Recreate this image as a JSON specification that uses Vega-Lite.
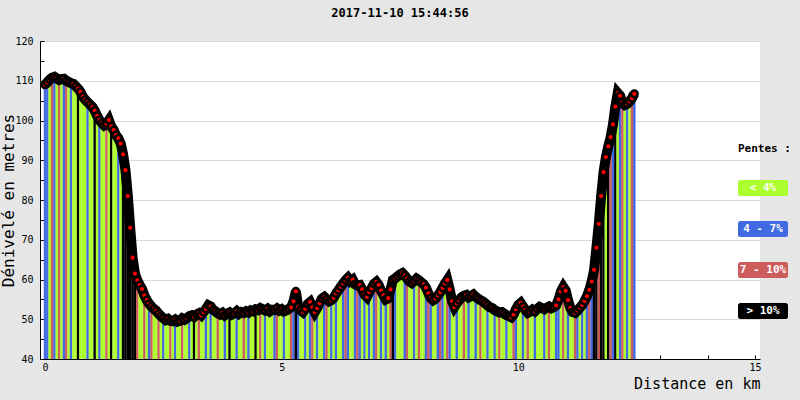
{
"$schema": "https://vega.github.io/schema/vega-lite/v6.json",
"autosize": "none",
"width": 720,
"height": 318,
"padding": {"left": 40, "top": 41, "right": 40, "bottom": 41},
"background": "#e6e6e6",
"title": {"text": "2017-11-10 15:44:56", "font": "DejaVu Sans Mono", "fontSize": 12, "fontWeight": "bold", "color": "black", "offset": 16, "anchor": "middle"},
"config": {"view": {"fill": "white", "stroke": null}, "font": "DejaVu Sans Mono"},
"data": {"values": [
{"d":0.00,"e":109.0,"s":"4 - 7%"},{"d":0.05,"e":109.6,"s":"4 - 7%"},{"d":0.10,"e":110.3,"s":"< 4%"},{"d":0.15,"e":110.8,"s":"7 - 10%"},{"d":0.20,"e":111.0,"s":"4 - 7%"},{"d":0.25,"e":110.6,"s":"< 4%"},{"d":0.30,"e":110.2,"s":"7 - 10%"},{"d":0.35,"e":110.4,"s":"< 4%"},{"d":0.40,"e":110.5,"s":"4 - 7%"},{"d":0.45,"e":110.0,"s":"7 - 10%"},
{"d":0.50,"e":109.7,"s":"< 4%"},{"d":0.55,"e":109.4,"s":"4 - 7%"},{"d":0.60,"e":109.2,"s":"< 4%"},{"d":0.65,"e":108.6,"s":"< 4%"},{"d":0.70,"e":108.0,"s":"> 10%"},{"d":0.75,"e":107.2,"s":"< 4%"},{"d":0.80,"e":106.0,"s":"< 4%"},{"d":0.85,"e":105.2,"s":"< 4%"},{"d":0.90,"e":104.6,"s":"4 - 7%"},{"d":0.95,"e":104.0,"s":"< 4%"},
{"d":1.00,"e":103.4,"s":"< 4%"},{"d":1.05,"e":102.5,"s":"> 10%"},{"d":1.10,"e":101.2,"s":"< 4%"},{"d":1.15,"e":100.1,"s":"4 - 7%"},{"d":1.20,"e":99.4,"s":"< 4%"},{"d":1.25,"e":98.8,"s":"< 4%"},{"d":1.30,"e":99.2,"s":"7 - 10%"},{"d":1.35,"e":100.1,"s":"< 4%"},{"d":1.40,"e":98.5,"s":"> 10%"},{"d":1.45,"e":97.6,"s":"< 4%"},
{"d":1.50,"e":96.3,"s":"< 4%"},{"d":1.55,"e":95.5,"s":"4 - 7%"},{"d":1.60,"e":94.2,"s":"< 4%"},{"d":1.65,"e":91.5,"s":"> 10%"},{"d":1.70,"e":87.5,"s":"> 10%"},{"d":1.75,"e":81.0,"s":"> 10%"},{"d":1.80,"e":73.0,"s":"> 10%"},{"d":1.85,"e":65.5,"s":"> 10%"},{"d":1.90,"e":61.5,"s":"> 10%"},{"d":1.95,"e":59.8,"s":"7 - 10%"},
{"d":2.00,"e":58.6,"s":"< 4%"},{"d":2.05,"e":57.6,"s":"< 4%"},{"d":2.10,"e":56.0,"s":"7 - 10%"},{"d":2.15,"e":54.8,"s":"< 4%"},{"d":2.20,"e":53.9,"s":"4 - 7%"},{"d":2.25,"e":53.2,"s":"7 - 10%"},{"d":2.30,"e":52.6,"s":"< 4%"},{"d":2.35,"e":52.1,"s":"< 4%"},{"d":2.40,"e":51.4,"s":"7 - 10%"},{"d":2.45,"e":50.8,"s":"< 4%"},
{"d":2.50,"e":50.3,"s":"4 - 7%"},{"d":2.55,"e":49.8,"s":"< 4%"},{"d":2.60,"e":50.1,"s":"< 4%"},{"d":2.65,"e":49.6,"s":"7 - 10%"},{"d":2.70,"e":49.5,"s":"< 4%"},{"d":2.75,"e":49.9,"s":"4 - 7%"},{"d":2.80,"e":49.4,"s":"< 4%"},{"d":2.85,"e":49.6,"s":"< 4%"},{"d":2.90,"e":50.2,"s":"7 - 10%"},{"d":2.95,"e":49.9,"s":"< 4%"},
{"d":3.00,"e":50.3,"s":"< 4%"},{"d":3.05,"e":50.8,"s":"4 - 7%"},{"d":3.10,"e":51.0,"s":"< 4%"},{"d":3.15,"e":50.6,"s":"> 10%"},{"d":3.20,"e":51.2,"s":"< 4%"},{"d":3.25,"e":51.5,"s":"7 - 10%"},{"d":3.30,"e":51.0,"s":"< 4%"},{"d":3.35,"e":51.8,"s":"< 4%"},{"d":3.40,"e":52.6,"s":"4 - 7%"},{"d":3.45,"e":53.5,"s":"< 4%"},
{"d":3.50,"e":53.2,"s":"4 - 7%"},{"d":3.55,"e":52.4,"s":"< 4%"},{"d":3.60,"e":52.0,"s":"< 4%"},{"d":3.65,"e":51.5,"s":"7 - 10%"},{"d":3.70,"e":51.2,"s":"< 4%"},{"d":3.75,"e":51.6,"s":"< 4%"},{"d":3.80,"e":51.0,"s":"4 - 7%"},{"d":3.85,"e":51.4,"s":"< 4%"},{"d":3.90,"e":51.7,"s":"> 10%"},{"d":3.95,"e":51.2,"s":"< 4%"},
{"d":4.00,"e":51.5,"s":"< 4%"},{"d":4.05,"e":52.0,"s":"4 - 7%"},{"d":4.10,"e":51.4,"s":"< 4%"},{"d":4.15,"e":51.8,"s":"< 4%"},{"d":4.20,"e":51.6,"s":"7 - 10%"},{"d":4.25,"e":52.0,"s":"< 4%"},{"d":4.30,"e":51.7,"s":"4 - 7%"},{"d":4.35,"e":52.2,"s":"< 4%"},{"d":4.40,"e":52.0,"s":"< 4%"},{"d":4.45,"e":52.5,"s":"> 10%"},
{"d":4.50,"e":52.3,"s":"< 4%"},{"d":4.55,"e":52.8,"s":"7 - 10%"},{"d":4.60,"e":52.5,"s":"< 4%"},{"d":4.65,"e":52.2,"s":"4 - 7%"},{"d":4.70,"e":52.6,"s":"< 4%"},{"d":4.75,"e":52.0,"s":"< 4%"},{"d":4.80,"e":52.4,"s":"< 4%"},{"d":4.85,"e":52.3,"s":"4 - 7%"},{"d":4.90,"e":52.7,"s":"7 - 10%"},{"d":4.95,"e":52.2,"s":"< 4%"},
{"d":5.00,"e":52.5,"s":"< 4%"},{"d":5.05,"e":52.0,"s":"4 - 7%"},{"d":5.10,"e":52.2,"s":"< 4%"},{"d":5.15,"e":52.6,"s":"< 4%"},{"d":5.20,"e":53.0,"s":"7 - 10%"},{"d":5.25,"e":54.5,"s":"4 - 7%"},{"d":5.30,"e":57.0,"s":"> 10%"},{"d":5.35,"e":53.0,"s":"4 - 7%"},{"d":5.40,"e":52.3,"s":"< 4%"},{"d":5.45,"e":51.8,"s":"< 4%"},
{"d":5.50,"e":52.6,"s":"4 - 7%"},{"d":5.55,"e":53.8,"s":"< 4%"},{"d":5.60,"e":54.3,"s":"4 - 7%"},{"d":5.65,"e":53.0,"s":"7 - 10%"},{"d":5.70,"e":51.8,"s":"< 4%"},{"d":5.75,"e":52.8,"s":"4 - 7%"},{"d":5.80,"e":54.0,"s":"< 4%"},{"d":5.85,"e":55.2,"s":"< 4%"},{"d":5.90,"e":55.6,"s":"4 - 7%"},{"d":5.95,"e":55.0,"s":"7 - 10%"},
{"d":6.00,"e":54.5,"s":"< 4%"},{"d":6.05,"e":54.8,"s":"4 - 7%"},{"d":6.10,"e":55.4,"s":"< 4%"},{"d":6.15,"e":56.5,"s":"4 - 7%"},{"d":6.20,"e":57.3,"s":"< 4%"},{"d":6.25,"e":58.2,"s":"< 4%"},{"d":6.30,"e":59.0,"s":"4 - 7%"},{"d":6.35,"e":59.8,"s":"7 - 10%"},{"d":6.40,"e":60.4,"s":"4 - 7%"},{"d":6.45,"e":59.6,"s":"< 4%"},
{"d":6.50,"e":60.0,"s":"< 4%"},{"d":6.55,"e":58.8,"s":"4 - 7%"},{"d":6.60,"e":58.5,"s":"7 - 10%"},{"d":6.65,"e":58.6,"s":"4 - 7%"},{"d":6.70,"e":57.5,"s":"< 4%"},{"d":6.75,"e":56.2,"s":"4 - 7%"},{"d":6.80,"e":55.6,"s":"< 4%"},{"d":6.85,"e":56.8,"s":"4 - 7%"},{"d":6.90,"e":57.8,"s":"< 4%"},{"d":6.95,"e":58.9,"s":"4 - 7%"},
{"d":7.00,"e":59.4,"s":"7 - 10%"},{"d":7.05,"e":58.6,"s":"< 4%"},{"d":7.10,"e":57.2,"s":"4 - 7%"},{"d":7.15,"e":56.0,"s":"< 4%"},{"d":7.20,"e":55.0,"s":"4 - 7%"},{"d":7.25,"e":55.3,"s":"< 4%"},{"d":7.30,"e":57.5,"s":"7 - 10%"},{"d":7.35,"e":59.9,"s":"> 10%"},{"d":7.40,"e":60.3,"s":"4 - 7%"},{"d":7.45,"e":60.8,"s":"< 4%"},
{"d":7.50,"e":61.3,"s":"< 4%"},{"d":7.55,"e":61.6,"s":"< 4%"},{"d":7.60,"e":61.0,"s":"4 - 7%"},{"d":7.65,"e":60.2,"s":"7 - 10%"},{"d":7.70,"e":59.5,"s":"< 4%"},{"d":7.75,"e":59.1,"s":"< 4%"},{"d":7.80,"e":59.6,"s":"4 - 7%"},{"d":7.85,"e":60.2,"s":"< 4%"},{"d":7.90,"e":59.8,"s":"7 - 10%"},{"d":7.95,"e":59.3,"s":"< 4%"},
{"d":8.00,"e":58.8,"s":"< 4%"},{"d":8.05,"e":57.9,"s":"4 - 7%"},{"d":8.10,"e":56.5,"s":"7 - 10%"},{"d":8.15,"e":55.3,"s":"4 - 7%"},{"d":8.20,"e":54.8,"s":"< 4%"},{"d":8.25,"e":55.2,"s":"< 4%"},{"d":8.30,"e":56.0,"s":"4 - 7%"},{"d":8.35,"e":56.8,"s":"7 - 10%"},{"d":8.40,"e":57.9,"s":"4 - 7%"},{"d":8.45,"e":59.0,"s":"< 4%"},
{"d":8.50,"e":59.9,"s":"7 - 10%"},{"d":8.55,"e":57.5,"s":"4 - 7%"},{"d":8.60,"e":54.5,"s":"< 4%"},{"d":8.65,"e":53.1,"s":"< 4%"},{"d":8.70,"e":54.0,"s":"4 - 7%"},{"d":8.75,"e":54.8,"s":"< 4%"},{"d":8.80,"e":55.5,"s":"< 4%"},{"d":8.85,"e":55.9,"s":"7 - 10%"},{"d":8.90,"e":56.1,"s":"< 4%"},{"d":8.95,"e":55.5,"s":"4 - 7%"},
{"d":9.00,"e":55.8,"s":"< 4%"},{"d":9.05,"e":56.2,"s":"< 4%"},{"d":9.10,"e":55.6,"s":"4 - 7%"},{"d":9.15,"e":55.2,"s":"< 4%"},{"d":9.20,"e":54.8,"s":"7 - 10%"},{"d":9.25,"e":54.5,"s":"< 4%"},{"d":9.30,"e":54.0,"s":"< 4%"},{"d":9.35,"e":53.5,"s":"4 - 7%"},{"d":9.40,"e":53.0,"s":"< 4%"},{"d":9.45,"e":52.8,"s":"< 4%"},
{"d":9.50,"e":52.3,"s":"4 - 7%"},{"d":9.55,"e":52.0,"s":"< 4%"},{"d":9.60,"e":51.7,"s":"7 - 10%"},{"d":9.65,"e":51.8,"s":"< 4%"},{"d":9.70,"e":51.4,"s":"< 4%"},{"d":9.75,"e":51.0,"s":"4 - 7%"},{"d":9.80,"e":50.8,"s":"< 4%"},{"d":9.85,"e":50.5,"s":"< 4%"},{"d":9.90,"e":51.2,"s":"7 - 10%"},{"d":9.95,"e":52.5,"s":"4 - 7%"},
{"d":10.00,"e":53.6,"s":"< 4%"},{"d":10.05,"e":54.1,"s":"< 4%"},{"d":10.10,"e":53.2,"s":"4 - 7%"},{"d":10.15,"e":52.3,"s":"< 4%"},{"d":10.20,"e":51.6,"s":"7 - 10%"},{"d":10.25,"e":51.9,"s":"< 4%"},{"d":10.30,"e":52.4,"s":"< 4%"},{"d":10.35,"e":52.0,"s":"4 - 7%"},{"d":10.40,"e":52.6,"s":"< 4%"},{"d":10.45,"e":53.1,"s":"< 4%"},
{"d":10.50,"e":52.8,"s":"< 4%"},{"d":10.55,"e":52.5,"s":"4 - 7%"},{"d":10.60,"e":52.9,"s":"< 4%"},{"d":10.65,"e":53.2,"s":"7 - 10%"},{"d":10.70,"e":52.8,"s":"< 4%"},{"d":10.75,"e":53.1,"s":"< 4%"},{"d":10.80,"e":53.5,"s":"4 - 7%"},{"d":10.85,"e":55.0,"s":"4 - 7%"},{"d":10.90,"e":57.0,"s":"< 4%"},{"d":10.95,"e":58.1,"s":"7 - 10%"},
{"d":11.00,"e":57.2,"s":"< 4%"},{"d":11.05,"e":54.8,"s":"4 - 7%"},{"d":11.10,"e":52.8,"s":"< 4%"},{"d":11.15,"e":51.8,"s":"< 4%"},{"d":11.20,"e":51.6,"s":"7 - 10%"},{"d":11.25,"e":52.2,"s":"4 - 7%"},{"d":11.30,"e":52.9,"s":"< 4%"},{"d":11.35,"e":53.6,"s":"4 - 7%"},{"d":11.40,"e":54.6,"s":"< 4%"},{"d":11.45,"e":55.8,"s":"4 - 7%"},
{"d":11.50,"e":57.4,"s":"7 - 10%"},{"d":11.55,"e":59.5,"s":"4 - 7%"},{"d":11.60,"e":62.4,"s":"> 10%"},{"d":11.65,"e":68.0,"s":"> 10%"},{"d":11.70,"e":74.0,"s":"7 - 10%"},{"d":11.75,"e":81.0,"s":"> 10%"},{"d":11.80,"e":87.0,"s":"> 10%"},{"d":11.85,"e":90.8,"s":"< 4%"},{"d":11.90,"e":93.5,"s":"> 10%"},{"d":11.95,"e":95.8,"s":"7 - 10%"},
{"d":12.00,"e":99.0,"s":"4 - 7%"},{"d":12.05,"e":103.5,"s":"> 10%"},{"d":12.10,"e":106.9,"s":"< 4%"},{"d":12.15,"e":106.2,"s":"4 - 7%"},{"d":12.20,"e":104.5,"s":"7 - 10%"},{"d":12.25,"e":103.9,"s":"< 4%"},{"d":12.30,"e":104.2,"s":"4 - 7%"},{"d":12.35,"e":104.8,"s":"< 4%"},{"d":12.40,"e":105.6,"s":"7 - 10%"},{"d":12.45,"e":106.7,"s":"4 - 7%"}
]},
"encoding": {
  "x": {"field": "d", "type": "quantitative",
    "scale": {"domain": [0, 15], "nice": false},
    "axis": {"values": [0,1,2,3,4,5,6,7,8,9,10,11,12,13,14,15], "labelExpr": "datum.value % 5 == 0 ? datum.label : ''",
      "title": "Distance en km", "titleFont": "DejaVu Sans Mono", "titleFontSize": 15, "titleFontWeight": "normal", "titleColor": "black",
      "titleAnchor": "end", "titlePadding": 4,
      "labelFont": "DejaVu Sans Mono", "labelFontSize": 10, "labelColor": "black", "labelPadding": 7,
      "domainColor": "black", "tickColor": "black", "tickSize": -4, "grid": false}},
  "y": {"field": "e", "type": "quantitative",
    "scale": {"domain": [40, 120], "nice": false, "zero": false},
    "axis": {"values": [40,45,50,55,60,65,70,75,80,85,90,95,100,105,110,115,120], "labelExpr": "datum.value % 10 == 0 ? datum.label : ''",
      "title": "Dénivelé en metres", "titleFont": "DejaVu Sans Mono", "titleFontSize": 16, "titleFontWeight": "normal", "titleColor": "black", "titlePadding": -2,
      "labelFont": "DejaVu Sans Mono", "labelFontSize": 10, "labelColor": "black", "labelPadding": 11,
      "domainColor": "black", "tickColor": "black", "tickSize": -4,
      "grid": true, "gridColor": {"condition": {"test": "datum.value % 10 == 0", "value": "#d9d9d9"}, "value": "transparent"}}}
},
"layer": [
  {"mark": {"type": "bar", "width": 2.5},
   "encoding": {
     "y2": {"datum": 40},
     "color": {"field": "s", "type": "nominal",
       "scale": {"domain": ["< 4%", "4 - 7%", "7 - 10%", "> 10%"], "range": ["#adff2f", "#4169e1", "#cd5c5c", "#000000"]},
       "legend": {"orient": "none", "legendX": 698, "legendY": 102, "padding": 0,
         "title": "Pentes :", "titleFont": "DejaVu Sans Mono", "titleFontSize": 11, "titleFontWeight": "bold", "titleColor": "black", "titlePadding": 9,
         "symbolType": "M-0.9,-0.32H0.9Q1,-0.32,1,-0.22V0.22Q1,0.32,0.9,0.32H-0.9Q-1,0.32,-1,0.22V-0.22Q-1,-0.32,-0.9,-0.32Z",
         "symbolSize": 2500, "symbolStrokeWidth": 0, "symbolOpacity": 1,
         "labelFont": "DejaVu Sans Mono", "labelFontSize": 11, "labelFontWeight": "bold", "labelColor": "white",
         "labelOffset": -25, "labelAlign": "center", "rowPadding": 8}}}},
  {"mark": {"type": "line", "color": "black", "strokeWidth": 10}},
  {"mark": {"type": "circle", "fill": "#ff0000", "stroke": "black", "strokeWidth": 2.5, "size": 45, "opacity": 1}}
]
}
